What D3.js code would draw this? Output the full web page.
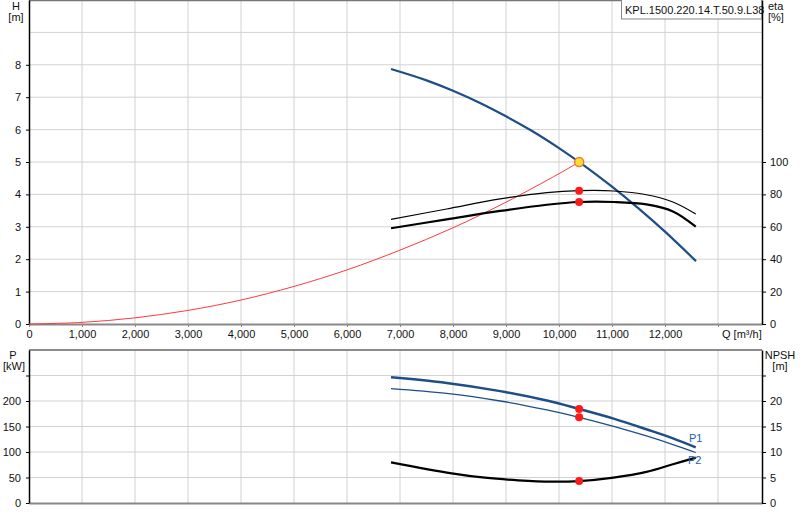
<!DOCTYPE html>
<html>
<head>
<meta charset="utf-8">
<script src="https://cdn.jsdelivr.net/npm/d3@7"></script>
<style>
body { margin: 0; background: #fff; }
text { font-family: "Liberation Sans", Arial, sans-serif; }
</style>
</head>
<body>
<script>
// Pump curve KPL.1500.220.14.T.50.9.L38

// --- data ---
var pumpName = "KPL.1500.220.14.T.50.9.L38";

// head curve H [m] vs Q [m3/h]
var headQ = [6830, 7500, 8000, 8500, 9000, 9500, 10000, 10500, 11000, 11500, 12000, 12585];
var headH = [7.87, 7.52, 7.20, 6.83, 6.41, 5.95, 5.43, 4.86, 4.24, 3.57, 2.85, 1.94];

// system curve
var sysQ = [0, 1000, 2000, 3000, 4000, 5000, 6000, 7000, 8000, 9000, 10000, 10380];
var sysH = [0, 0.05, 0.19, 0.42, 0.74, 1.16, 1.67, 2.28, 2.97, 3.76, 4.64, 5.0];

// efficiency curves eta [%]
var etaQ = [6830, 7880, 8890, 9770, 10380, 11030, 11650, 12150, 12580];
var eta1 = [64.6, 71.0, 77.2, 81.1, 82.3, 82.1, 79.8, 75.3, 67.9];
var eta2 = [59.1, 64.6, 69.8, 73.6, 75.3, 75.3, 73.8, 69.5, 60.1];

// power curves P [kW]
var powQ = [6830, 7880, 8890, 9770, 10380, 11030, 11650, 12150, 12580];
var powP1 = [246.4, 235.4, 219.4, 200.8, 184.3, 165.4, 144.5, 126.8, 109.2];
var powP2 = [224.4, 214.9, 200.0, 182.5, 168, 150.3, 131.4, 114.6, 99];

// NPSH [m]
var npshQ = [6830, 7975, 8600, 9230, 9860, 10380, 11030, 11650, 12150, 12580];
var npshV = [7.98, 5.82, 4.96, 4.45, 4.18, 4.3, 4.98, 6.1, 7.6, 8.9];

// duty point
var dutyQ = 10380;
var dutyH = 5.0;
var dutyEta = [82.3, 75.3];
var dutyP = [184.3, 168];
var dutyNpsh = 4.3;

// ticks
var qTicks = [0, 1000, 2000, 3000, 4000, 5000, 6000, 7000, 8000, 9000, 10000, 11000, 12000];
var qGrid = [1000, 2000, 3000, 4000, 5000, 6000, 7000, 8000, 9000, 10000, 11000, 12000, 13000];
var hTicks = [0, 1, 2, 3, 4, 5, 6, 7, 8];
var hGrid = [1, 2, 3, 4, 5, 6, 7, 8, 9];
var etaTicks = [0, 20, 40, 60, 80, 100];
var pTicks = [0, 50, 100, 150, 200, 250];
var pGrid = [50, 100, 150, 200, 250];
var npshTicks = [0, 5, 10, 15, 20, 25];

var width = 800;
var height = 520;
var svg = d3.select("body").append("svg")
    .attr("width", width)
    .attr("height", height);

var left = 29, right = 762;
var topA = 0, botA = 324;
var topB = 350, botB = 503;

var x = d3.scaleLinear().domain([0, 13830]).range([left, right]);
var yH = d3.scaleLinear().domain([0, 10]).range([botA, topA]);
var yEta = d3.scaleLinear().domain([0, 200]).range([botA, topA]);
var yP = d3.scaleLinear().domain([0, 300]).range([botB, topB]);
var yN = d3.scaleLinear().domain([0, 30]).range([botB, topB]);

var gridColor = "#d2d2d2";
var blue = "#1d4e86";

/*** grids ***/
function vgrid(y0, y1) {
    svg.append("g").selectAll("line").data(qGrid).enter().append("line")
        .attr("x1", function(d) { return x(d); })
        .attr("x2", function(d) { return x(d); })
        .attr("y1", y0).attr("y2", y1)
        .attr("stroke", gridColor).attr("stroke-width", 1);
}
vgrid(topA, botA);
vgrid(topB, botB);

svg.append("g").selectAll("line").data(hGrid).enter().append("line")
    .attr("x1", left).attr("x2", right)
    .attr("y1", function(d) { return yH(d); })
    .attr("y2", function(d) { return yH(d); })
    .attr("stroke", gridColor).attr("stroke-width", 1);

svg.append("g").selectAll("line").data(pGrid).enter().append("line")
    .attr("x1", left).attr("x2", right)
    .attr("y1", function(d) { return yP(d); })
    .attr("y2", function(d) { return yP(d); })
    .attr("stroke", gridColor).attr("stroke-width", 1);

// frame top lines
svg.append("line").attr("x1", left).attr("x2", right).attr("y1", 0.5).attr("y2", 0.5)
    .attr("stroke", "#777").attr("stroke-width", 1.5);
svg.append("line").attr("x1", left).attr("x2", right).attr("y1", topB).attr("y2", topB)
    .attr("stroke", "#666").attr("stroke-width", 1.5);

/*** axes ***/
function styleAxis(g, color, w) {
    g.attr("font-family", "Liberation Sans, Arial, sans-serif").attr("font-size", 11);
    g.select(".domain").attr("stroke", color).attr("stroke-width", w);
    g.selectAll(".tick line").attr("stroke", color);
    g.selectAll(".tick text").attr("fill", "#111");
}

var gx = svg.append("g").attr("transform", "translate(0," + botA + ")")
    .call(d3.axisBottom(x).tickValues(qTicks.concat([13000]))
        .tickFormat(function(d) { return d > 12000 ? "" : d3.format(",")(d); })
        .tickSize(3).tickSizeOuter(0).tickPadding(3));
styleAxis(gx, "#888", 2);

var gx2 = svg.append("g").attr("transform", "translate(0," + botB + ")")
    .call(d3.axisBottom(x).tickValues([]).tickSizeOuter(0));
styleAxis(gx2, "#888", 2);

var gH = svg.append("g").attr("transform", "translate(" + left + ",0)")
    .call(d3.axisLeft(yH).tickValues(hTicks).tickSize(3).tickSizeOuter(0).tickPadding(5));
styleAxis(gH, "#000", 1.5);

var gEta = svg.append("g").attr("transform", "translate(" + right + ",0)")
    .call(d3.axisRight(yEta).tickValues(etaTicks).tickSize(4).tickSizeOuter(0).tickPadding(4));
styleAxis(gEta, "#000", 1.5);

var gP = svg.append("g").attr("transform", "translate(" + left + ",0)")
    .call(d3.axisLeft(yP).tickValues(pTicks).tickSize(3).tickSizeOuter(0).tickPadding(5)
        .tickFormat(function(d) { return d > 200 ? "" : d; }));
styleAxis(gP, "#000", 1.5);

var gN = svg.append("g").attr("transform", "translate(" + right + ",0)")
    .call(d3.axisRight(yN).tickValues(npshTicks).tickSize(4).tickSizeOuter(0).tickPadding(4)
        .tickFormat(function(d) { return d > 20 ? "" : d; }));
styleAxis(gN, "#000", 1.5);

/*** axis titles ***/
function label(t, px, py, anchor) {
    svg.append("text").text(t)
        .attr("x", px).attr("y", py)
        .attr("text-anchor", anchor)
        .attr("font-size", 11)
        .attr("fill", "#111");
}
label("H", 16, 10, "middle");
label("[m]", 16, 21, "middle");
label("eta", 768, 10, "start");
label("[%]", 768, 21, "start");
label("P", 13, 359, "middle");
label("[kW]", 14, 370, "middle");
label("NPSH", 780, 359, "middle");
label("[m]", 780, 370, "middle");
svg.append("text").attr("x", 722).attr("y", 338).attr("font-size", 11).attr("fill", "#111")
    .text("Q [m³/h]");

/*** curves ***/
function curve(qs, vs, ys, color, w) {
    var pts = qs.map(function(q, i) { return [q, vs[i]]; });
    var line = d3.line()
        .x(function(d) { return x(d[0]); })
        .y(function(d) { return ys(d[1]); })
        .curve(d3.curveCatmullRom.alpha(0.5));
    svg.append("path").datum(pts)
        .attr("d", line)
        .attr("fill", "none")
        .attr("stroke", color)
        .attr("stroke-width", w)
        .attr("stroke-linejoin", "round");
}

curve(sysQ, sysH, yH, "#ff3a3a", 1);
curve(headQ, headH, yH, blue, 2.2);
curve(etaQ, eta1, yEta, "#000", 1.2);
curve(etaQ, eta2, yEta, "#000", 2.2);
curve(powQ, powP1, yP, blue, 2.5);
curve(powQ, powP2, yP, blue, 1.3);
curve(npshQ, npshV, yN, "#000", 2.2);

/*** duty point markers ***/
function dot(cx, cy) {
    svg.append("circle").attr("cx", cx).attr("cy", cy).attr("r", 4).attr("fill", "#ff1a1a");
}
dutyEta.forEach(function(v) { dot(x(dutyQ), yEta(v)); });
dutyP.forEach(function(v) { dot(x(dutyQ), yP(v)); });
dot(x(dutyQ), yN(dutyNpsh));

svg.append("circle")
    .attr("cx", x(dutyQ)).attr("cy", yH(dutyH)).attr("r", 4.5)
    .attr("fill", "#ffe030").attr("stroke", "#f07a3a").attr("stroke-width", 1.5);

/*** curve labels ***/
svg.append("text").text("P1").attr("x", 689).attr("y", 442)
    .attr("font-size", 11).attr("fill", "#2060a8");
svg.append("text").text("P2").attr("x", 688).attr("y", 464)
    .attr("font-size", 11).attr("fill", "#2060a8");

/*** name box ***/
svg.append("rect").attr("x", 621.5).attr("y", -1).attr("width", 140).attr("height", 20)
    .attr("fill", "#fff").attr("stroke", "#888");
svg.append("text").text(pumpName).attr("x", 625).attr("y", 14)
    .attr("font-size", 11).attr("fill", "#111");
</script>
</body>
</html>
